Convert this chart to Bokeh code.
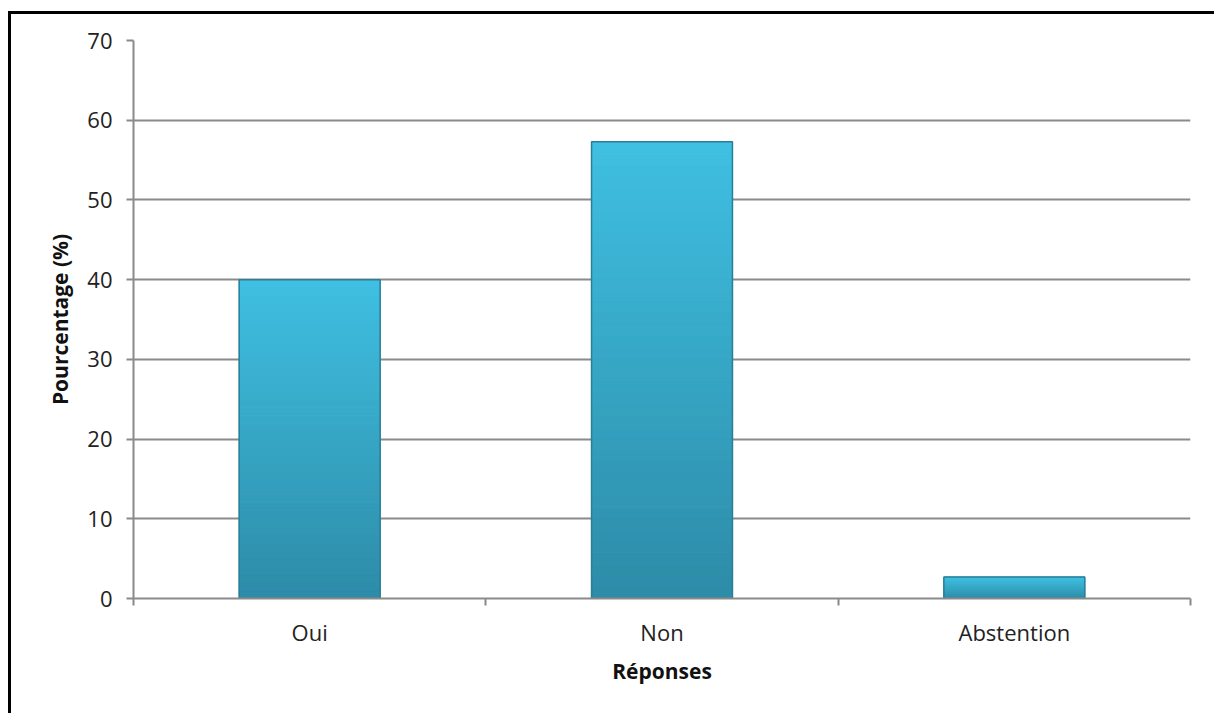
from bokeh.plotting import figure
from bokeh.models import FixedTicker, Range1d
from bokeh.embed import file_html
from bokeh.resources import INLINE

categories = ["Oui", "Non", "Abstention"]
values = [40.0, 57.3, 2.7]
y_ticks = [0, 10, 20, 30, 40, 50, 60, 70]

OFF_X, OFF_Y = 8, 11   # outer frame position
BW = 3
W, H = 1217 - OFF_X - BW, 716 - OFF_Y - BW
p = figure(width=W, height=H, output_backend="svg", toolbar_location=None,
           x_range=Range1d(0, len(categories)), y_range=Range1d(0, 70),
           min_border_left=133 - OFF_X - BW, min_border_right=27,
           min_border_top=40 - OFF_Y - BW, min_border_bottom=118)
p.styles = {"margin-left": f"{OFF_X}px", "margin-top": f"{OFF_Y}px",
            "border-left": f"{BW}px solid black", "border-top": f"{BW}px solid black"}
p.outline_line_color = None
p.background_fill_color = "white"
p.border_fill_color = "white"

# gradient bars (sliced)
top_c = (0x40, 0xC0, 0xE2)
bot_c = (0x2D, 0x8C, 0xA8)
N = 40
xs = [i + 0.5 for i in range(len(categories))]
for x, v in zip(xs, values):
    b, t, cols = [], [], []
    for k in range(N):
        f0, f1 = k / N, (k + 1) / N
        b.append(v * f0)
        t.append(v * f1)
        f = (f0 + f1) / 2
        c = tuple(int(bot_c[j] + (top_c[j] - bot_c[j]) * f) for j in range(3))
        cols.append("#%02x%02x%02x" % c)
    p.vbar(x=[x] * N, width=0.4, bottom=b, top=t, fill_color=cols,
           line_color=cols, line_width=1)
# outlines
p.vbar(x=xs, width=0.4, top=values, fill_color=None, line_color="#2a7f97", line_width=1.5)

# axes
p.yaxis.ticker = FixedTicker(ticks=y_ticks)
p.yaxis.axis_label = "Pourcentage (%)"
p.xaxis.axis_label = "Réponses"
p.xaxis.ticker = FixedTicker(ticks=xs, minor_ticks=list(range(len(categories) + 1)))
p.xaxis.major_label_overrides = {x: c for x, c in zip(xs, categories)}
for ax in (p.xaxis, p.yaxis):
    ax.axis_line_color = "#8a8a8a"
    ax.axis_line_width = 2
    ax.major_tick_line_color = "#8a8a8a"
    ax.major_tick_line_width = 2
    ax.minor_tick_line_color = "#8a8a8a"
    ax.minor_tick_line_width = 2
    ax.major_label_text_font = "Open Sans"
    ax.major_label_text_font_size = "22px"
    ax.major_label_text_color = "#222222"
    ax.axis_label_text_font = "Open Sans"
    ax.axis_label_text_font_size = "21px"
    ax.axis_label_text_font_style = "bold"
    ax.axis_label_text_color = "#111111"
p.yaxis.major_tick_in = 0
p.yaxis.major_tick_out = 7
p.yaxis.minor_tick_in = 0
p.yaxis.minor_tick_out = 0
p.yaxis.major_label_standoff = 14
p.yaxis.axis_label_standoff = 10
p.xaxis.major_tick_in = 0
p.xaxis.major_tick_out = 0
p.xaxis.minor_tick_in = 0
p.xaxis.minor_tick_out = 7
p.xaxis.major_label_standoff = 11
p.xaxis.axis_label_standoff = 7

p.xgrid.grid_line_color = None
p.ygrid.grid_line_color = "#8a8a8a"
p.ygrid.grid_line_width = 2
p.ygrid.ticker = FixedTicker(ticks=y_ticks)

open("out.html", "w").write(file_html(p, INLINE))
